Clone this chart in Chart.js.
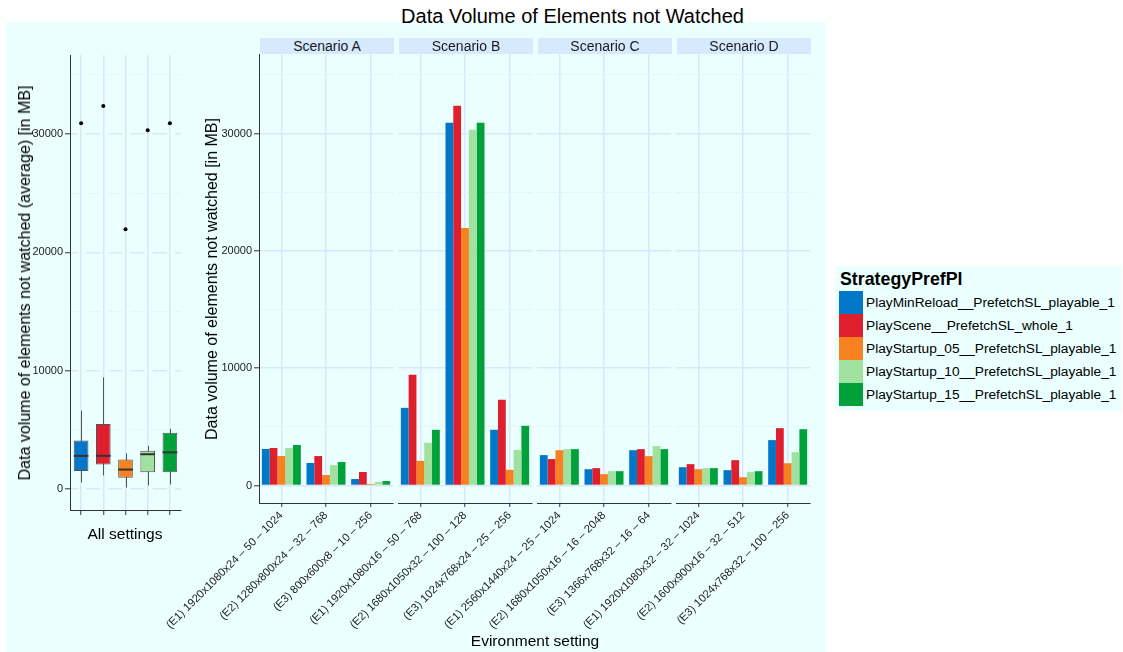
<!DOCTYPE html>
<html>
<head>
<meta charset="utf-8">
<script src="https://cdn.jsdelivr.net/npm/chart.js@4.4.1/dist/chart.umd.min.js"></script>
<style>
    body { margin: 0; background: #fff; }
    #page {
        position: relative; width: 1123px; height: 652px; overflow: hidden;
        font-family: "Liberation Sans", Arial, Helvetica, sans-serif; color: #000;
    }
    #plotBg { position: absolute; left: 6px; top: 22px; width: 820px; height: 630px; background: #ebfffe; }
    canvas { position: absolute; }
    .title { position: absolute; left: 0; width: 1145px; top: 5px; text-align: center; font-size: 20px; }
    .strip {
        position: absolute; top: 38px; height: 16px; background: #d7eafd;
        font-size: 14px; line-height: 16px; text-align: center; color: #1a1a1a;
    }
    .vtitle {
        position: absolute; white-space: nowrap; font-size: 16px;
        transform: translate(-50%, -50%) rotate(-90deg);
    }
    .htitle { position: absolute; white-space: nowrap; font-size: 15.5px; transform: translate(-50%, -50%); }
    #legend { position: absolute; left: 835px; top: 266px; width: 287px; height: 145px; background: #ebfffe; }
    #legend .ltitle { position: absolute; left: 5px; top: 3px; font-size: 17.8px; font-weight: bold; }
    #legend .key { position: absolute; left: 4px; width: 24px; height: 23px; }
    #legend .lab { position: absolute; left: 31px; height: 23px; line-height: 23px; font-size: 13.7px; white-space: nowrap; }
</style>
</head>
<body>
<div id="page">
    <div id="plotBg"></div>
    <div class="title">Data Volume of Elements not Watched</div>

    <canvas id="boxChart"></canvas>
    <div id="facets"></div>

    <div class="vtitle" style="left:25px; top:283px;">Data volume of elements not watched (average) [in MB]</div>
    <div class="vtitle" style="left:212px; top:279px;">Data volume of elements not watched [in MB]</div>
    <div class="htitle" style="left:125px; top:534px;">All settings</div>
    <div class="htitle" style="left:535px; top:641px;">Evironment setting</div>

    <div id="legend"><div class="ltitle">StrategyPrefPl</div></div>
</div>

<script>
// ---- data ----
const scenarioNames = ['Scenario A', 'Scenario B', 'Scenario C', 'Scenario D'];

const envA = ['(E1) 1920x1080x24 – 50 – 1024', '(E2) 1280x800x24 – 32 – 768', '(E3) 800x600x8 – 10 – 256'];
const envB = ['(E1) 1920x1080x16 – 50 – 768', '(E2) 1680x1050x32 – 100 – 128', '(E3) 1024x768x24 – 25 – 256'];
const envC = ['(E1) 2560x1440x24 – 25 – 1024', '(E2) 1680x1050x16 – 16 – 2048', '(E3) 1366x768x32 – 16 – 64'];
const envD = ['(E1) 1920x1080x32 – 32 – 1024', '(E2) 1600x900x16 – 32 – 512', '(E3) 1024x768x32 – 100 – 256'];
const envLabels = [envA, envB, envC, envD];

const strategies = [
    'PlayMinReload__PrefetchSL_playable_1',
    'PlayScene__PrefetchSL_whole_1',
    'PlayStartup_05__PrefetchSL_playable_1',
    'PlayStartup_10__PrefetchSL_playable_1',
    'PlayStartup_15__PrefetchSL_playable_1'
];

// MB not watched, E1..E3 of scenario A, then B, C, D
const minReload = [3110, 1920, 550,  6620, 30920, 4750,  2590, 1390, 3010,  1560, 1310, 3870];
const playScene = [3200, 2510, 1150, 9440, 32370, 7300,  2250, 1480, 3100,  1820, 2160, 4890];
const startup05 = [2510, 890, 130,   2100, 21960, 1340,  3010, 970, 2500,   1390, 710, 1900];
const startup10 = [3200, 1740, 300,  3640, 30330, 3040,  3100, 1220, 3360,  1480, 1140, 2840];
const startup15 = [3450, 2000, 380,  4750, 30920, 5090,  3100, 1220, 3100,  1480, 1220, 4800];
const seriesValues = [minReload, playScene, startup05, startup10, startup15];

// grid positions on the value axis; only the multiples of 10000 get a label
const yGridValues = [0, 5000, 10000, 15000, 20000, 25000, 30000, 35000];

const strategyColors = ['#0276c8', '#df1f2d', '#f68121', '#a0e1a0', '#00a13b'];

// ---- look ----
Chart.defaults.font.family = "'Liberation Sans', Arial, Helvetica, sans-serif";
const axisColor = '#333333';
const tickText = '#222222';
const gridMajor = '#d9e6fd';
const gridMinor = '#e4f4fe';

function isMajor(v) { return v % 10000 === 0; }

function yGrid(showTicks) {
    return {
        color: ctx => ctx.tick && isMajor(ctx.tick.value) ? gridMajor : gridMinor,
        lineWidth: ctx => ctx.tick && isMajor(ctx.tick.value) ? 1.6 : 1,
        tickColor: ctx => showTicks && ctx.tick && isMajor(ctx.tick.value) ? axisColor : 'rgba(0,0,0,0)',
        tickLength: 5,
        tickWidth: 1
    };
}

function yTickLabel(v) { return isMajor(v) ? String(v) : ''; }
function setYTicks(sc) { sc.ticks = yGridValues.map(v => ({ value: v })); }

// R-style (type 7) quantile of a sorted array
function quantile(sorted, p) {
    const h = (sorted.length - 1) * p;
    const lo = Math.floor(h);
    const hiVal = lo + 1 < sorted.length ? sorted[lo + 1] : sorted[lo];
    return sorted[lo] + (h - lo) * (hiVal - sorted[lo]);
}

function boxStats(values) {
    const s = [...values].sort((a, b) => a - b);
    const q1 = quantile(s, 0.25), med = quantile(s, 0.5), q3 = quantile(s, 0.75);
    const fence = 1.5 * (q3 - q1);
    const inside = s.filter(v => v >= q1 - fence && v <= q3 + fence);
    return {
        q1, med, q3,
        lo: inside[0],
        hi: inside[inside.length - 1],
        out: s.filter(v => v < q1 - fence || v > q3 + fence)
    };
}

// ---- left panel: boxplot over all settings ----
const stats = seriesValues.map(boxStats);

// whiskers under the boxes, medians on top
const boxParts = {
    id: 'boxParts',
    beforeDatasetsDraw(chart) {
        const { ctx, scales: { x, y } } = chart;
        ctx.save();
        ctx.strokeStyle = '#555555';
        ctx.lineWidth = 1;
        stats.forEach((st, i) => {
            const px = Math.round(x.getPixelForValue(i)) + 0.5;
            ctx.beginPath();
            ctx.moveTo(px, y.getPixelForValue(st.lo));
            ctx.lineTo(px, y.getPixelForValue(st.hi));
            ctx.stroke();
        });
        ctx.restore();
    },
    afterDatasetsDraw(chart) {
        const { ctx, scales: { y } } = chart;
        const meta = chart.getDatasetMeta(0);
        ctx.save();
        ctx.strokeStyle = '#333333';
        ctx.lineWidth = 2;
        stats.forEach((st, i) => {
            const bar = meta.data[i];
            const py = y.getPixelForValue(st.med);
            ctx.beginPath();
            ctx.moveTo(bar.x - bar.width / 2, py);
            ctx.lineTo(bar.x + bar.width / 2, py);
            ctx.stroke();
        });
        ctx.restore();
    }
};

const boxCanvas = document.getElementById('boxChart');
boxCanvas.width = 190;
boxCanvas.height = 500;
boxCanvas.style.left = '0px';
boxCanvas.style.top = '40px';

// the horizontal grid of this panel is broken around each box column
const boxCol = (181 - 70) / strategies.length;
const boxGap = 8;

new Chart(boxCanvas, {
    type: 'bar',
    data: {
        labels: strategies,
        datasets: [
            {
                data: stats.map(s => [s.q1, s.q3]),
                backgroundColor: strategyColors,
                borderColor: '#555555',
                borderWidth: 1,
                borderSkipped: false,
                barPercentage: 0.66,
                categoryPercentage: 1,
                grouped: false,
                order: 2
            },
            {
                type: 'line',
                data: stats.flatMap((s, i) => s.out.map(v => ({ x: strategies[i], y: v }))),
                showLine: false,
                pointRadius: 2,
                pointBackgroundColor: '#000',
                pointBorderWidth: 0,
                order: 1
            }
        ]
    },
    options: {
        responsive: false,
        animation: false,
        layout: { padding: { top: 15, right: 9, left: 0, bottom: 0 } },
        plugins: { legend: { display: false }, tooltip: { enabled: false } },
        scales: {
            x: {
                grid: { offset: false, color: gridMajor, lineWidth: 1.5, tickColor: axisColor, tickLength: 5, tickWidth: 1 },
                border: { color: axisColor, width: 1 },
                ticks: { callback: () => '', padding: 0 },
                afterFit: sc => { sc.height = 30; sc.paddingLeft = 0; sc.paddingRight = 0; }
            },
            y: {
                min: -1775,
                max: 36690,
                afterBuildTicks: setYTicks,
                ticks: { callback: yTickLabel, color: tickText, font: { size: 11 }, padding: 2 },
                grid: yGrid(true),
                border: {
                    color: axisColor, width: 1,
                    dash: [boxCol - boxGap, boxGap],
                    dashOffset: boxCol - boxGap - (boxCol / 2 - boxGap / 2)
                },
                afterFit: sc => { sc.width = 70; sc.paddingTop = 0; sc.paddingBottom = 0; }
            }
        }
    },
    plugins: [boxParts]
});

// ---- right side: one bar panel per scenario ----
const panelLefts = [259, 398, 537, 676];
const panelWidth = 134;
const labelRoom = 125;
const facetTop = 54;
const facetBottom = 503;
const facetsEl = document.getElementById('facets');

scenarioNames.forEach((name, s) => {
    const strip = document.createElement('div');
    strip.className = 'strip';
    strip.style.left = (panelLefts[s] + 1) + 'px';
    strip.style.width = panelWidth + 'px';
    strip.textContent = name;
    document.getElementById('page').appendChild(strip);

    const cv = document.createElement('canvas');
    cv.width = labelRoom + panelWidth + 12;
    cv.height = 652 - 40;
    cv.style.left = (panelLefts[s] - labelRoom) + 'px';
    cv.style.top = '40px';
    facetsEl.appendChild(cv);

    const first = s === 0;
    new Chart(cv, {
        type: 'bar',
        data: {
            labels: envLabels[s],
            datasets: strategies.map((st, k) => ({
                label: st,
                data: seriesValues[k].slice(s * 3, s * 3 + 3),
                backgroundColor: strategyColors[k],
                borderWidth: 0,
                barPercentage: 1,
                categoryPercentage: 0.873
            }))
        },
        options: {
            responsive: false,
            animation: false,
            layout: { padding: { top: facetTop - 40, right: 12, left: 0, bottom: 0 } },
            plugins: { legend: { display: false }, tooltip: { enabled: false } },
            scales: {
                x: {
                    grid: { offset: false, color: gridMajor, lineWidth: 1.5, tickColor: axisColor, tickLength: 4, tickWidth: 1 },
                    border: { color: axisColor, width: 1 },
                    ticks: { minRotation: 45, maxRotation: 45, autoSkip: false, color: tickText, font: { size: 11.2 }, padding: 2 },
                    afterFit: sc => { sc.height = 652 - facetBottom; sc.paddingLeft = 0; sc.paddingRight = 0; }
                },
                y: {
                    min: -1492,
                    max: 36785,
                    afterBuildTicks: setYTicks,
                    ticks: { display: first, callback: yTickLabel, color: tickText, font: { size: 11 }, padding: 2 },
                    grid: yGrid(first),
                    border: { display: first, color: axisColor, width: 1 },
                    afterFit: sc => { sc.width = labelRoom; sc.paddingTop = 0; sc.paddingBottom = 0; }
                }
            }
        }
    });
});

// ---- legend ----
const legend = document.getElementById('legend');
strategies.forEach((st, k) => {
    const key = document.createElement('div');
    key.className = 'key';
    key.style.top = (25 + k * 23) + 'px';
    key.style.background = strategyColors[k];
    legend.appendChild(key);

    const lab = document.createElement('div');
    lab.className = 'lab';
    lab.style.top = (25 + k * 23) + 'px';
    lab.textContent = st;
    legend.appendChild(lab);
});
</script>
</body>
</html>
